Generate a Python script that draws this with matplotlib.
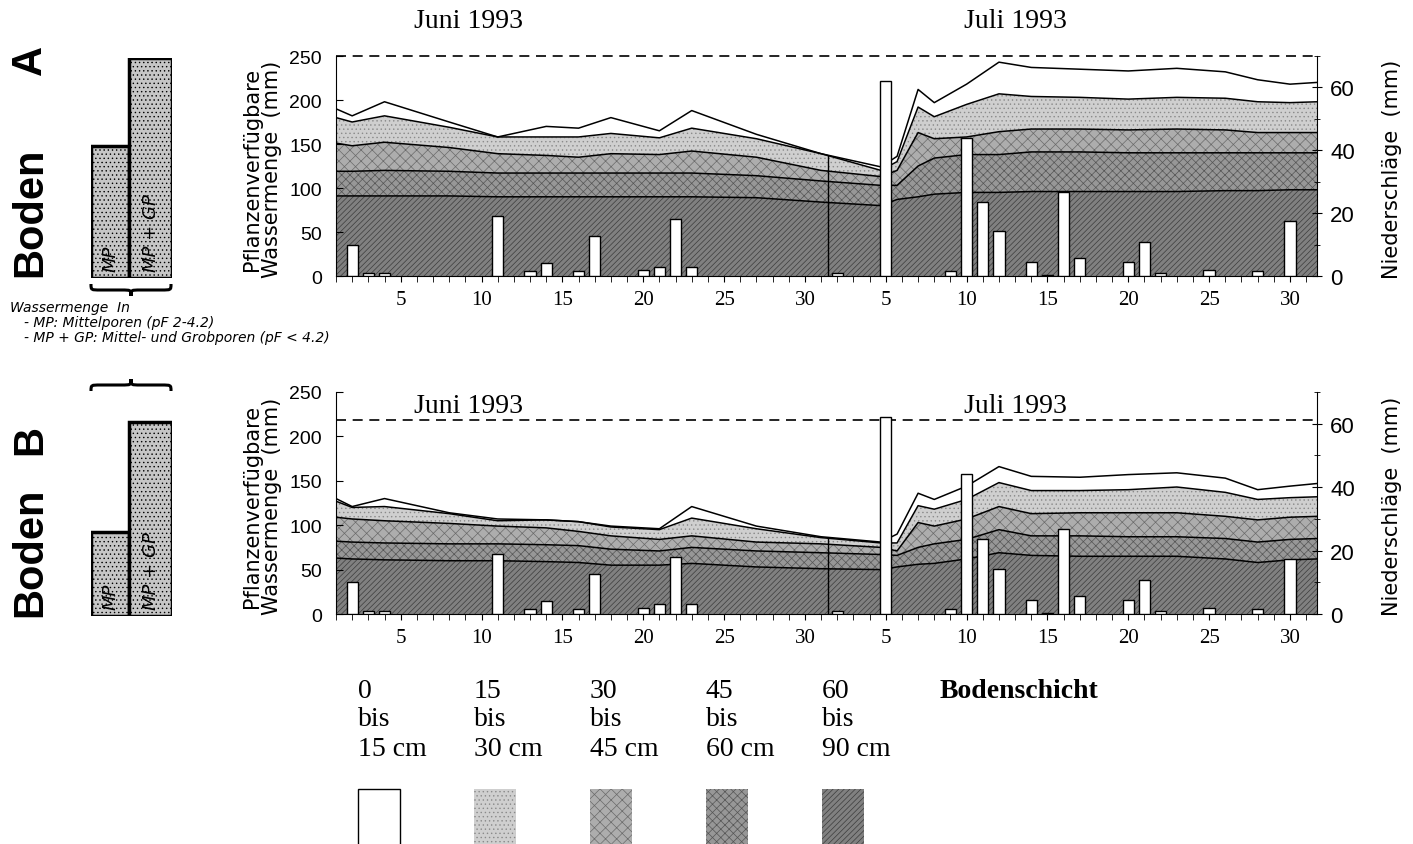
import numpy as np
import matplotlib
matplotlib.use('Agg')
import matplotlib.pyplot as plt
from matplotlib.path import Path
from matplotlib.patches import PathPatch, Rectangle

#############################################################
## Daten
#############################################################
# Tage: Juni 1..30 -> 1..30, Juli 1..31 -> 31..61
tage = [1, 2, 4, 8, 11, 14, 16, 18, 21, 23, 27, 31, 34.7,
        35.7, 37, 38, 40, 42, 44, 47, 50, 53, 56, 58, 60, 61.7]

# Boden A: kumulierte Wassermenge (mm) von Schicht-Oberkante bis 90 cm
a_0_90 = [190, 182, 198, 175, 158, 170, 168, 180, 165, 188, 161, 139, 124,
          136, 212, 197, 218, 243, 237, 235, 233, 236, 232, 223, 218, 220]
a_15_90 = [180, 175, 182, 169, 158, 158, 158, 162, 157, 168, 156, 139, 120,
           130, 192, 181, 195, 207, 204, 203, 201, 203, 202, 198, 197, 198]
a_30_90 = [151, 148, 152, 146, 139, 137, 135, 139, 138, 142, 135, 120, 113,
           120, 163, 156, 158, 164, 167, 167, 166, 167, 166, 163, 163, 163]
a_45_90 = [119, 119, 120, 119, 117, 117, 117, 117, 117, 117, 114, 108, 103,
           103, 125, 134, 138, 138, 141, 141, 140, 140, 140, 140, 140, 140]
a_60_90 = [91, 91, 91, 91, 90, 90, 90, 90, 90, 90, 89, 84, 80,
           87, 90, 93, 95, 95, 96, 96, 96, 96, 97, 97, 98, 98]

# Boden B
b_0_90 = [130, 121, 130, 114, 107, 106, 104, 99, 96, 121, 99, 87, 81,
          90, 136, 129, 144, 166, 155, 154, 157, 159, 153, 140, 144, 147]
b_15_90 = [127, 120, 121, 113, 105, 106, 104, 98, 95, 108, 96, 86, 80,
           80, 122, 118, 129, 148, 139, 139, 140, 143, 137, 129, 131, 132]
b_30_90 = [109, 107, 105, 102, 99, 97, 93, 88, 84, 88, 81, 79, 75,
           71, 103, 99, 107, 121, 113, 114, 114, 114, 110, 106, 109, 110]
b_45_90 = [82, 81, 80, 79, 79, 78, 77, 73, 71, 75, 71, 69, 67,
           66, 75, 79, 84, 95, 88, 88, 87, 87, 85, 81, 84, 85]
b_60_90 = [63, 62, 61, 60, 60, 59, 58, 55, 55, 57, 53, 51, 50,
           53, 56, 57, 62, 69, 66, 65, 65, 65, 62, 58, 61, 62]

# Niederschläge (mm)
regen_tage = [2, 3, 4, 11, 13, 14, 16, 17, 20, 21, 22, 23,
              32, 35, 39, 40, 41, 42, 44, 45, 46, 47, 50, 51, 52, 55, 58, 60]
regen_mm = [10, 1, 1, 19, 1.5, 4.2, 1.6, 12.7, 2, 3, 18, 3,
            1, 62, 1.5, 44, 23.6, 14.3, 4.5, 0.3, 26.8, 5.7, 4.5, 10.8, 1, 2, 1.5, 17.5]

# Speicherkapazität (mm): Mittelporen, Mittel- + Grobporen
kap_mp = [150, 95]
kap_gesamt = [250, 218]

tick_pos = [5, 10, 15, 20, 25, 30, 35, 40, 45, 50, 55, 60]
tick_lbl = ['5', '10', '15', '20', '25', '30', '5', '10', '15', '20', '25', '30']

schicht_oben = ['0', '15', '30', '45', '60']
schicht_unten = ['15 cm', '30 cm', '45 cm', '60 cm', '90 cm']

#############################################################
## Stil
#############################################################
W, H = 1413, 845
SERIF = 'Liberation Serif'
NARROW = ['Liberation Sans Narrow', 'Liberation Sans']
farben = ['#808080', '#979797', '#adadad', '#cfcfcf', 'white']
muster = ['//////', 'xxxx', 'xxx', '....', None]
musterfarbe = ['#3c3c3c', '#555555', '#6a6a6a', '#8a8a8a', 'black']
plt.rcParams['hatch.linewidth'] = 0.5


def fx(px):
    return px / W


def fy(py):
    return 1 - py / H


fig = plt.figure(figsize=(W / 100, H / 100), dpi=100)
fig.patch.set_facecolor('white')

# name, Linien, Unterkante (px), Höhe (px), Index, Titelhöhe, "Boden"-Mitte, Buchstaben-Mitte
panels = [
    ('A', [a_60_90, a_45_90, a_30_90, a_15_90, a_0_90], 277, 220, 0, 22, 212, 60),
    ('B', [b_60_90, b_45_90, b_30_90, b_15_90, b_0_90], 615, 222, 1, 407, 552, 440),
]

for name, linien, unten, hoehe, i, titel_y, boden_y, buchst_y in panels:
    ax = fig.add_axes([fx(336), fy(unten), fx(981), hoehe / H])
    ax.set_xlim(1, 61.67)
    ax.set_ylim(0, 250)

    untergrenze = np.zeros(len(tage))
    for k, linie in enumerate(linien):
        ax.fill_between(tage, untergrenze, linie, facecolor=farben[k],
                        hatch=muster[k], edgecolor=musterfarbe[k], linewidth=0)
        untergrenze = np.array(linie, dtype=float)
    for linie in linien:
        ax.plot(tage, linie, color='black', lw=1.1)

    # Monatsgrenze
    ax.vlines(31.4, 0, np.interp(31.4, tage, linien[-1]), color='black', lw=1)
    ax.axhline(kap_gesamt[i], color='black', lw=1.2, ls=(0, (6, 4)), clip_on=False)

    ax.spines['top'].set_visible(False)
    ax.spines['right'].set_visible(False)
    ax.set_yticks([0, 50, 100, 150, 200, 250])
    ax.tick_params(axis='y', direction='in', length=5, labelsize=14, pad=10)
    for t in ax.get_yticklabels():
        t.set_family(NARROW)
    ax.set_xticks(tick_pos)
    ax.set_xticklabels(tick_lbl, fontsize=15, family=SERIF)
    ax.set_xticks(range(1, 62), minor=True)
    ax.tick_params(axis='x', which='both', direction='out', length=4, pad=6)

    ax2 = ax.twinx()
    ax2.set_ylim(0, 70)
    ax2.bar(regen_tage, regen_mm, width=0.7, facecolor='white', edgecolor='black', lw=1)
    for s in ['top', 'left', 'bottom']:
        ax2.spines[s].set_visible(False)
    ax2.set_yticks([0, 20, 40, 60])
    ax2.set_yticks([10, 30, 50, 70], minor=True)
    ax2.tick_params(axis='y', which='major', direction='inout', length=7, labelsize=16, pad=6)
    ax2.tick_params(axis='y', which='minor', direction='inout', length=5)
    for t in ax2.get_yticklabels():
        t.set_family(NARROW)

    mitte = unten - hoehe / 2
    fig.text(fx(262), fy(mitte + 2), 'Pflanzenverfügbare\nWassermenge  (mm)', rotation=90,
             ha='center', va='center', fontsize=15, linespacing=0.95)
    fig.text(fx(1392), fy(mitte + 2), 'Niederschläge  (mm)', rotation=90,
             ha='center', va='center', fontsize=15)
    fig.text(fx(468), fy(titel_y), 'Juni 1993', family=SERIF,
             fontsize=20, ha='center', va='center')
    fig.text(fx(1015), fy(titel_y), 'Juli 1993', family=SERIF,
             fontsize=20, ha='center', va='center')
    fig.text(fx(30), fy(boden_y), 'Boden', rotation=90, ha='center',
             va='center', fontsize=30, weight='bold', family='Liberation Sans')
    fig.text(fx(30), fy(buchst_y), name, rotation=90, ha='center',
             va='center', fontsize=30, weight='bold', family='Liberation Sans')

    # Schema der Speicherkapazität
    axs = fig.add_axes([fx(91), fy(unten + 2), fx(81), hoehe / H])
    axs.set_xlim(0, 2)
    axs.set_ylim(0, 250)
    axs.bar([0, 0.95], [kap_mp[i], kap_gesamt[i]], width=[0.95, 1.05], align='edge',
            facecolor='#c6c6c6', edgecolor='black', lw=2.5, hatch='....')
    axs.axis('off')
    axs.text(0.48, 8, 'MP', rotation=90, ha='center', va='bottom', style='italic', fontsize=13)
    axs.text(1.48, 8, 'MP + GP', rotation=90, ha='center', va='bottom', style='italic',
             fontsize=13)

#############################################################
## Dekoration: Klammern, Legende
#############################################################
deko = fig.add_axes([0, 0, 1, 1])
deko.set_xlim(0, W)
deko.set_ylim(H, 0)
deko.axis('off')
deko.patch.set_alpha(0)


def klammer(x0, x1, y_ende, y_spitze):
    xm = (x0 + x1) / 2
    ym = (y_ende + y_spitze) / 2
    q = (x1 - x0) * 0.12
    verts = [(x0, y_ende), (x0, ym), (x0, ym), (x0 + q, ym), (xm - q, ym),
             (xm, ym), (xm, ym), (xm, y_spitze), (xm, ym), (xm, ym), (xm + q, ym),
             (x1 - q, ym), (x1, ym), (x1, ym), (x1, y_ende)]
    codes = [Path.MOVETO, Path.CURVE4, Path.CURVE4, Path.CURVE4, Path.LINETO,
             Path.CURVE4, Path.CURVE4, Path.CURVE4, Path.CURVE4, Path.CURVE4, Path.CURVE4,
             Path.LINETO, Path.CURVE4, Path.CURVE4, Path.CURVE4]
    deko.add_patch(PathPatch(Path(verts, codes), facecolor='none', edgecolor='black', lw=2.2))


klammer(91, 171, 285, 297)
klammer(91, 171, 392, 380)

deko.text(10, 308, 'Wassermenge  In', style='italic', fontsize=10, va='center')
deko.text(24, 323, '- MP: Mittelporen (pF 2-4.2)', style='italic', fontsize=10, va='center')
deko.text(24, 338, '- MP + GP: Mittel- und Grobporen (pF < 4.2)', style='italic', fontsize=10,
          va='center')

for k in range(5):
    x = 358 + k * 116
    deko.text(x, 692, schicht_oben[k], family=SERIF, fontsize=20, va='center')
    deko.text(x, 720, 'bis', family=SERIF, fontsize=20, va='center')
    deko.text(x, 750, schicht_unten[k], family=SERIF, fontsize=20, va='center')
    r = 4 - k
    deko.add_patch(Rectangle((x, 790), 42, 70, facecolor=farben[r], hatch=muster[r],
                             edgecolor=musterfarbe[r], lw=1 if r == 4 else 0, clip_on=False))
deko.text(940, 692, 'Bodenschicht', family=SERIF, fontsize=20, weight='bold', va='center')

fig.savefig('out.png', dpi=100)
